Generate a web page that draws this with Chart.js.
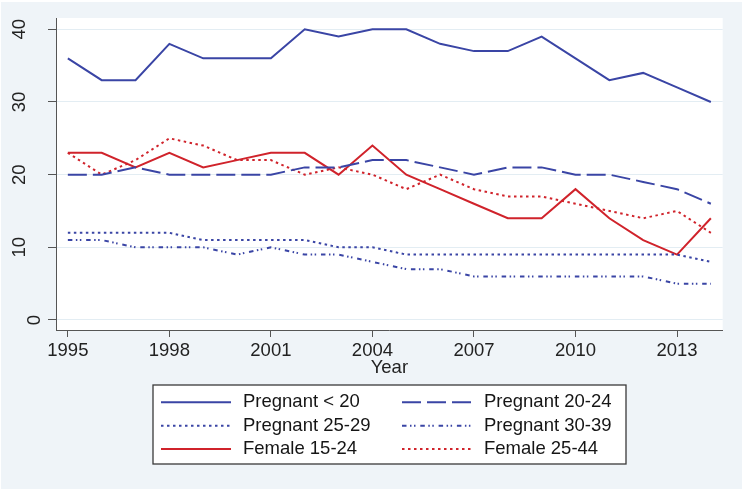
<!DOCTYPE html>
<html><head><meta charset="utf-8">
<script src="https://cdn.jsdelivr.net/npm/chart.js@4.4.1/dist/chart.umd.min.js"></script>
<style>html,body{margin:0;padding:0;background:#fff;}#wrap{width:744px;height:489px;position:relative;}</style>
</head><body><div id="wrap"><canvas id="c" width="744" height="489"></canvas></div>
<script>
const years = [1995,1996,1997,1998,1999,2000,2001,2002,2003,2004,2005,2006,2007,2008,2009,2010,2011,2012,2013,2014];
const xTickValues = [1995,1998,2001,2004,2007,2010,2013];
const yTickValues = [0,10,20,30,40];
const xTitle = 'Year';
const seriesNames = ['Pregnant < 20','Pregnant 20-24','Pregnant 25-29','Pregnant 30-39','Female 15-24','Female 25-44'];
const pregnantUnder20 = [36,33,33,38,36,36,36,40,39,40,40,38,37,37,39,36,33,34,32,30];
const pregnant20to24  = [20,20,21,20,20,20,20,21,21,22,22,21,20,21,21,20,20,19,18,16];
const pregnant25to29  = [12,12,12,12,11,11,11,11,10,10,9,9,9,9,9,9,9,9,9,8];
const pregnant30to39  = [11,11,10,10,10,9,10,9,9,8,7,7,6,6,6,6,6,6,5,5];
const female15to24    = [23,23,21,23,21,22,23,23,20,24,20,18,16,14,14,18,14,11,9,14];
const female25to44    = [23,20,22,25,24,22,22,20,21,20,18,20,18,17,17,16,15,14,15,12];

const BLUE = '#3a45a5', RED = '#d0232b';
const FONT = '"Liberation Sans", Arial, sans-serif';
const FS = 18.5;

function ds(label, data, color, dash) {
  return {label, data, borderColor: color, backgroundColor: color, borderWidth: 2,
    borderDash: dash, pointRadius: 0, pointHoverRadius: 0, tension: 0, fill: false, borderCapStyle: 'butt'};
}

const bgPlugin = {
  id: 'bg',
  beforeDraw(chart) {
    const {ctx, chartArea: a} = chart;
    ctx.save();
    ctx.fillStyle = '#ffffff';
    ctx.fillRect(0, 0, chart.width, chart.height);
    ctx.fillStyle = '#eff4f8';
    ctx.fillRect(1, 2, 741, chart.height - 2);
    ctx.fillStyle = '#ffffff';
    ctx.fillRect(a.left, a.top, a.right - a.left, a.bottom - a.top);
    ctx.restore();
  }
};

const yLabelPlugin = {
  id: 'ylabels',
  afterDraw(chart) {
    const {ctx} = chart;
    const ys = chart.scales.y;
    ctx.save();
    ctx.font = FS + 'px ' + FONT;
    ctx.fillStyle = '#222';
    ctx.textAlign = 'center';
    ctx.textBaseline = 'middle';
    yTickValues.forEach(v => {
      const t = String(v);
      const py = ys.getPixelForValue(v);
      const cx = t.length === 1 ? 35 : 19.5;
      ctx.save();
      ctx.translate(cx, py);
      ctx.rotate(-Math.PI / 2);
      ctx.fillText(t, 0, 0);
      ctx.restore();
    });
    ctx.restore();
  }
};

const legendPlugin = {
  id: 'customLegend',
  afterDraw(chart) {
    const {ctx} = chart;
    const box = {x: 153, y: 385, w: 473, h: 79};
    ctx.save();
    ctx.fillStyle = '#ffffff';
    ctx.fillRect(box.x, box.y, box.w, box.h);
    ctx.strokeStyle = '#3a3a3a';
    ctx.lineWidth = 1.3;
    ctx.strokeRect(box.x, box.y, box.w, box.h);
    const rows = [402.3, 425.7, 449];
    const cols = [{l0: 161, l1: 231, tx: 243}, {l0: 402, l1: 472, tx: 484}];
    ctx.font = FS + 'px ' + FONT;
    ctx.textBaseline = 'middle';
    ctx.textAlign = 'left';
    chart.data.datasets.forEach((d, i) => {
      const r = rows[Math.floor(i / 2)], c = cols[i % 2];
      ctx.strokeStyle = d.borderColor;
      ctx.lineWidth = d.borderWidth;
      ctx.setLineDash(d.borderDash || []);
      ctx.beginPath();
      ctx.moveTo(c.l0, r);
      ctx.lineTo(c.l1, r);
      ctx.stroke();
      ctx.setLineDash([]);
      ctx.fillStyle = '#151515';
      ctx.fillText(d.label, c.tx, r);
    });
    ctx.restore();
  }
};

new Chart(document.getElementById('c'), {
  type: 'line',
  data: {
    labels: years,
    datasets: [
      ds(seriesNames[0], pregnantUnder20, BLUE, []),
      ds(seriesNames[1], pregnant20to24, BLUE, [19, 6]),
      ds(seriesNames[2], pregnant25to29, BLUE, [2.5, 3.5]),
      ds(seriesNames[3], pregnant30to39, BLUE, [4.5, 3.5, 1.5, 2.5, 1.5, 4.8]),
      ds(seriesNames[4], female15to24, RED, []),
      ds(seriesNames[5], female25to44, RED, [2.5, 3.5])
    ]
  },
  options: {
    responsive: false,
    devicePixelRatio: 1,
    animation: false,
    events: [],
    layout: {padding: {top: 18, right: 21.3, left: 0, bottom: 0}},
    plugins: {legend: {display: false}, tooltip: {enabled: false}, title: {display: false}},
    scales: {
      x: {
        type: 'linear',
        min: 1994.65, max: 2014.35,
        afterBuildTicks: s => { s.ticks = xTickValues.map(v => ({value: v})); },
        afterFit: s => { s.height = 159; },
        grid: {drawOnChartArea: false, drawTicks: true, tickLength: 7, tickColor: '#555', color: '#555'},
        border: {display: true, color: '#555', width: 1},
        ticks: {color: '#222', font: {family: FONT, size: FS, lineHeight: 1.2}, padding: 2.5,
          maxRotation: 0, minRotation: 0, autoSkip: false, callback: v => String(v)},
        title: {display: true, text: xTitle, color: '#222', font: {family: FONT, size: FS, lineHeight: 1.2},
          padding: {top: 0, bottom: 109.9}}
      },
      y: {
        type: 'linear',
        min: -1.376, max: 41.555,
        afterBuildTicks: s => { s.ticks = yTickValues.map(v => ({value: v})); },
        afterFit: s => { s.width = 56; },
        grid: {color: '#e3edf3', lineWidth: 1, drawTicks: true, tickLength: 8, tickColor: '#555'},
        border: {display: true, color: '#555', width: 1},
        ticks: {display: false}
      }
    }
  },
  plugins: [bgPlugin, yLabelPlugin, legendPlugin]
});
</script>
</body></html>
